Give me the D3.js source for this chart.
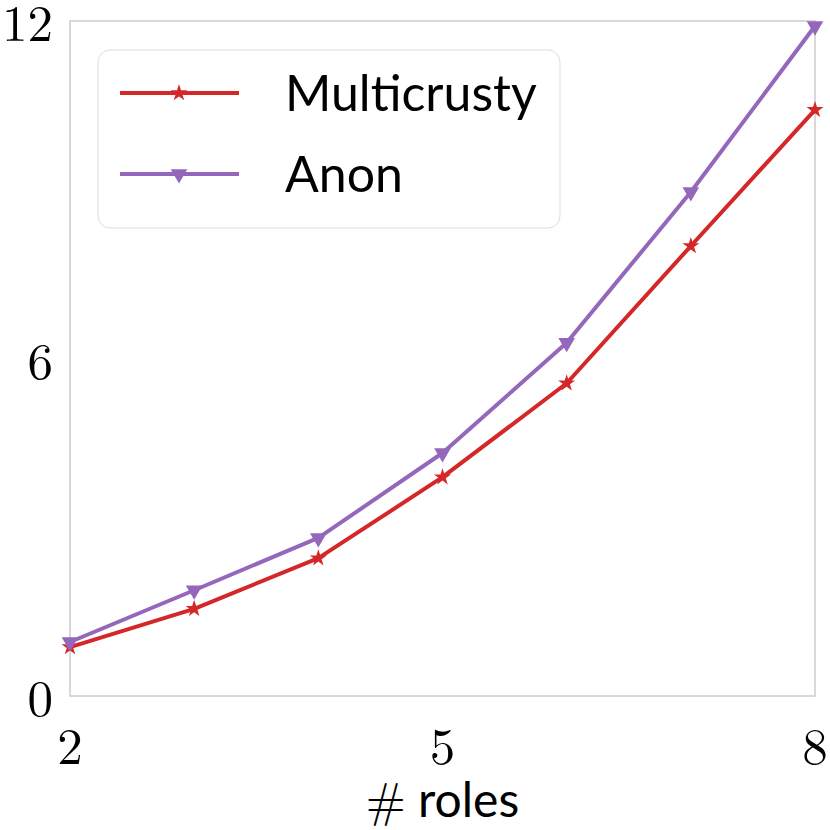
<!DOCTYPE html>
<html>
<head>
<meta charset="utf-8">
<script src="https://cdn.jsdelivr.net/npm/d3@7"></script>
<style>
  body { margin: 0; background: #fff; }
  svg { display: block; }
</style>
</head>
<body>
<svg width="830" height="830"></svg>
<script>
const roles = [2, 3, 4, 5, 6, 7, 8];
const multicrusty = [0.87, 1.55, 2.45, 3.89, 5.56, 8.0, 10.42];
const anon = [0.96, 1.88, 2.81, 4.32, 6.28, 8.96, 11.91];
const xTicks = [2, 5, 8];
const yTicks = [0, 6, 12];

const series = [
  { name: "Multicrusty", values: multicrusty, color: "#d62728", symbol: d3.symbolStar, size: 90, rotate: 0 },
  { name: "Anon", values: anon, color: "#9467bd", symbol: d3.symbolTriangle, size: 120, rotate: 180 }
];

const margin = { top: 21, right: 15, bottom: 134, left: 70 };
const width = 830 - margin.left - margin.right;
const height = 830 - margin.top - margin.bottom;

const svg = d3.select("svg");
const g = svg.append("g")
  .attr("transform", "translate(" + margin.left + "," + margin.top + ")");

const x = d3.scaleLinear().domain([2, 8]).range([0, width]);
const y = d3.scaleLinear().domain([0, 12]).range([height, 0]);

// spines
g.append("rect")
  .attr("width", width)
  .attr("height", height)
  .attr("fill", "none")
  .attr("stroke", "#cccccc")
  .attr("stroke-width", 1.5);

// tick labels (no tick marks)
const serif = "'Latin Modern Roman', 'CMU Serif', 'Liberation Serif', serif";
const sans = "'CMU Sans Serif', Lato, 'Open Sans', sans-serif";

g.append("g").selectAll("text")
  .data(xTicks)
  .enter()
  .append("text")
  .attr("x", d => x(d))
  .attr("y", height + 68)
  .attr("text-anchor", "middle")
  .attr("font-family", serif)
  .attr("font-size", 51)
  .text(d => d);

g.append("g").selectAll("text")
  .data(yTicks)
  .enter()
  .append("text")
  .attr("x", -17)
  .attr("y", d => y(d))
  .attr("dy", "0.4em")
  .attr("text-anchor", "end")
  .attr("font-family", serif)
  .attr("font-size", 51)
  .text(d => d);

// axis label
const xl = g.append("text")
  .attr("x", width / 2)
  .attr("y", height + 121)
  .attr("text-anchor", "middle")
  .attr("font-size", 48);
xl.append("tspan").attr("font-family", serif).text("#");
xl.append("tspan").attr("font-family", sans).text(" roles");

// lines
const line = d3.line()
  .x((d, i) => x(roles[i]))
  .y(d => y(d));

series.forEach(s => {
  g.append("path")
    .attr("d", line(s.values))
    .attr("fill", "none")
    .attr("stroke", s.color)
    .attr("stroke-width", 4)
    .attr("stroke-linejoin", "round");

  g.append("g").selectAll("path")
    .data(s.values)
    .enter()
    .append("path")
    .attr("d", d3.symbol().type(s.symbol).size(s.size))
    .attr("transform", (d, i) => `translate(${x(roles[i])},${y(d)}) rotate(${s.rotate})`)
    .attr("fill", s.color);
});

// legend
const legend = svg.append("g").attr("transform", "translate(98,50)");
legend.append("rect")
  .attr("width", 462)
  .attr("height", 178)
  .attr("rx", 12)
  .attr("fill", "white")
  .attr("fill-opacity", 0.9)
  .attr("stroke", "#dddddd")
  .attr("stroke-width", 1);

series.forEach((s, i) => {
  const row = legend.append("g").attr("transform", `translate(0,${43 + i * 81})`);
  row.append("line")
    .attr("x1", 22).attr("x2", 141)
    .attr("stroke", s.color)
    .attr("stroke-width", 4);
  row.append("path")
    .attr("d", d3.symbol().type(s.symbol).size(s.size))
    .attr("transform", `translate(81,0) rotate(${s.rotate})`)
    .attr("fill", s.color);
  row.append("text")
    .attr("x", 187)
    .attr("y", 0)
    .attr("dy", "0.36em")
    .attr("font-family", sans)
    .attr("font-size", 50)
    .text(s.name);
});
</script>
</body>
</html>
